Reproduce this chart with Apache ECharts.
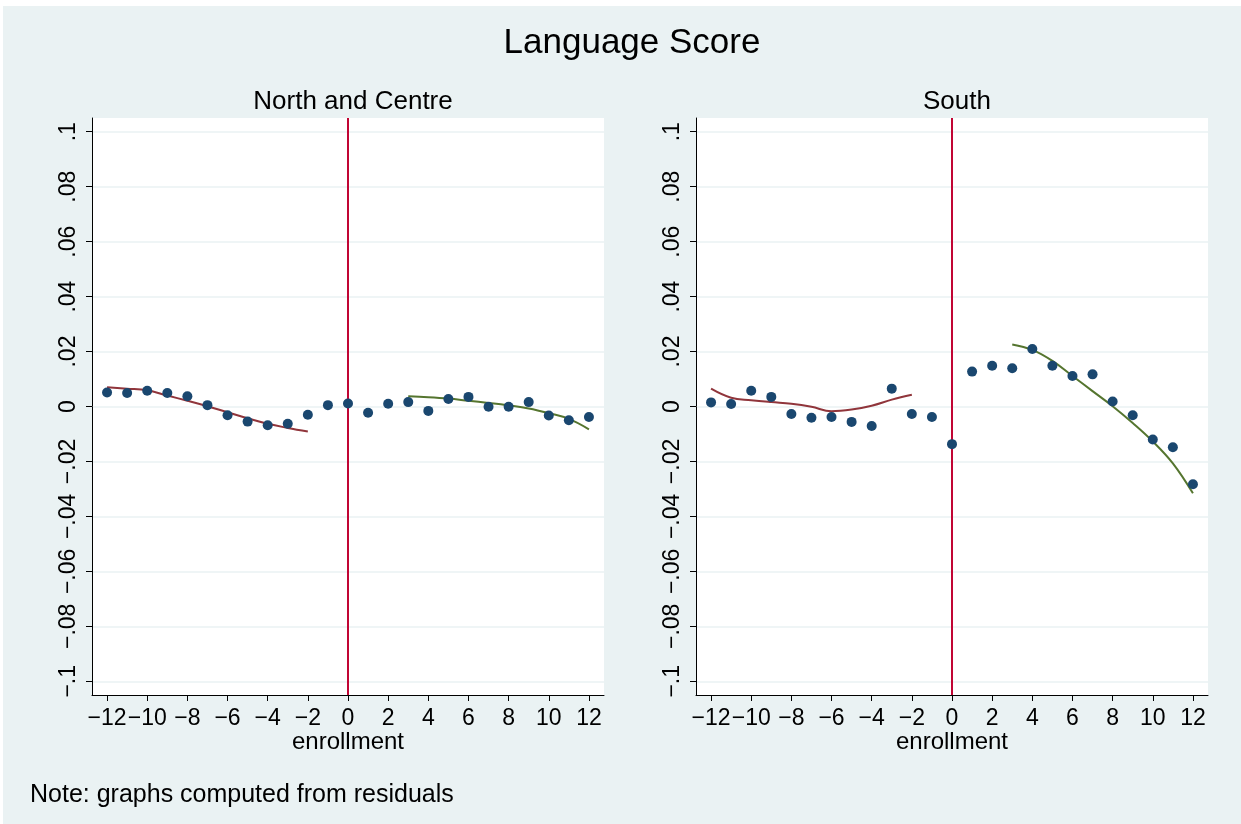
<!DOCTYPE html>
<html>
<head>
<meta charset="utf-8">
<script src="https://cdn.jsdelivr.net/npm/echarts@6/dist/echarts.min.js"></script>
<style>
html,body{margin:0;padding:0;background:#ffffff;}
#chart{width:1241px;height:824px;}
</style>
</head>
<body>
<div id="chart"></div>
<script>
// ---- data ----
const enrollment = [-12,-11,-10,-9,-8,-7,-6,-5,-4,-3,-2,-1,0,1,2,3,4,5,6,7,8,9,10,11,12];
const northDots = [0.0051,0.0049,0.0057,0.0049,0.0037,0.0005,-0.0032,-0.0055,-0.0068,-0.0063,-0.0030,0.0005,0.0011,-0.0023,0.0010,0.0016,-0.0016,0.0027,0.0035,-0.0001,-0.0001,0.0016,-0.0033,-0.0050,-0.0038];
const southDots = [0.0015,0.0009,0.0057,0.0035,-0.0027,-0.0041,-0.0038,-0.0056,-0.0071,0.0065,-0.0027,-0.0038,-0.0137,0.0127,0.0148,0.0139,0.0209,0.0148,0.0111,0.0117,0.0018,-0.0032,-0.0120,-0.0148,-0.0283];

const fitBeforeX = [-12,-11,-10,-9,-8,-7,-6,-5,-4,-3,-2];
const fitAfterX = [3,4,5,6,7,8,9,10,11,12];
const northFitBefore = [0.0070,0.0065,0.0059,0.0040,0.0021,0.0001,-0.0021,-0.0043,-0.0063,-0.0078,-0.0091];
const northFitAfter = [0.0037,0.0034,0.0029,0.0021,0.0013,0.0004,-0.0007,-0.0024,-0.0045,-0.0083];
const southFitBefore = [0.0065,0.0032,0.0023,0.0016,0.0010,-0.0001,-0.0017,-0.0011,0.0003,0.0025,0.0043];
const southFitAfter = [0.0226,0.0206,0.0166,0.0111,0.0056,0.0001,-0.0060,-0.0127,-0.0207,-0.0316];

const xTicks = [-12,-10,-8,-6,-4,-2,0,2,4,6,8,10,12];
const yTicks = [-0.1,-0.08,-0.06,-0.04,-0.02,0,0.02,0.04,0.06,0.08,0.1];

const titleText = 'Language Score';
const panelTitles = ['North and Centre', 'South'];
const xName = 'enrollment';
const noteText = 'Note: graphs computed from residuals';

// ---- styles ----
const FONT = '"Liberation Sans", Arial, Helvetica, sans-serif';
const BG = '#eaf2f3';
const NAVY = '#1a476f';
const MAROON = '#90353b';
const GREEN = '#55752f';
const CRAN = '#c10534';

function pairs(xs, ys){ return xs.map((x,i)=>[x, ys[i]]); }
function fmtX(v){ return v < 0 ? '\u2212' + Math.abs(v) : String(v); }
function fmtY(v){
  if (Math.abs(v) < 1e-9) return '0';
  let s = Math.abs(v).toFixed(2).replace(/0+$/,'').replace(/^0/,'');
  return (v < 0 ? '\u2212' : '') + s;
}

const grids = [
  {left: 92, top: 118, width: 512, height: 577, show: true, backgroundColor: '#ffffff', borderWidth: 0},
  {left: 696, top: 118, width: 512, height: 577, show: true, backgroundColor: '#ffffff', borderWidth: 0}
];

function xAxisFor(i){
  return {
    gridIndex: i, type: 'value', min: -12.75, max: 12.75,
    name: xName, nameLocation: 'middle', nameGap: 35, nameMoveOverlap: false,
    nameTextStyle: {fontFamily: FONT, fontSize: 24, color: '#000'},
    axisLine: {show: true, onZero: false, lineStyle: {color: '#000', width: 1}},
    axisTick: {show: true, length: 6, inside: false, customValues: xTicks, lineStyle: {color: '#000'}},
    axisLabel: {show: true, customValues: xTicks, margin: 12, fontFamily: FONT, fontSize: 23, color: '#000', formatter: fmtX},
    splitLine: {show: false}
  };
}
function yAxisFor(i){
  return {
    gridIndex: i, type: 'value', min: -0.105, max: 0.105,
    axisLine: {show: true, onZero: false, lineStyle: {color: '#000', width: 1}},
    axisTick: {show: true, length: 6, inside: false, customValues: yTicks, lineStyle: {color: '#000'}},
    axisLabel: {show: true, customValues: yTicks, rotate: 90, margin: 12, fontFamily: FONT, fontSize: 23, color: '#000', formatter: fmtY},
    splitLine: {show: true, lineStyle: {color: BG, width: 1.5}}
  };
}

function panelSeries(i, dots, before, after){
  return [
    {
      type: 'scatter', xAxisIndex: i, yAxisIndex: i,
      data: pairs(enrollment, dots), symbol: 'circle', symbolSize: 10,
      itemStyle: {color: NAVY, opacity: 1}, z: 5,
      markLine: {
        silent: true, symbol: ['none','none'], label: {show: false},
        lineStyle: {color: CRAN, width: 2, type: 'solid', opacity: 1},
        data: [{xAxis: 0}]
      }
    },
    {
      type: 'line', xAxisIndex: i, yAxisIndex: i, data: pairs(fitBeforeX, before),
      smooth: 0.4, showSymbol: false, lineStyle: {color: MAROON, width: 2}, z: 4
    },
    {
      type: 'line', xAxisIndex: i, yAxisIndex: i, data: pairs(fitAfterX, after),
      smooth: 0.4, showSymbol: false, lineStyle: {color: GREEN, width: 2}, z: 4
    }
  ];
}

const chart = echarts.init(document.getElementById('chart'), null, {renderer: 'canvas'});
chart.setOption({
  animation: false,
  backgroundColor: '#ffffff',
  graphic: [{type: 'rect', left: 3, top: 6, shape: {width: 1238, height: 818}, style: {fill: BG}, z: -10, silent: true}],
  title: [
    {text: titleText, left: 627, textAlign: 'center', top: 21, textStyle: {fontFamily: FONT, fontSize: 35, fontWeight: 'normal', color: '#000'}},
    {text: panelTitles[0], left: 348, textAlign: 'center', top: 84, textStyle: {fontFamily: FONT, fontSize: 26, fontWeight: 'normal', color: '#000'}},
    {text: panelTitles[1], left: 952, textAlign: 'center', top: 84, textStyle: {fontFamily: FONT, fontSize: 26, fontWeight: 'normal', color: '#000'}},
    {text: noteText, left: 25, top: 778, textStyle: {fontFamily: FONT, fontSize: 25, fontWeight: 'normal', color: '#000'}}
  ],
  grid: grids,
  xAxis: [xAxisFor(0), xAxisFor(1)],
  yAxis: [yAxisFor(0), yAxisFor(1)],
  series: [].concat(
    panelSeries(0, northDots, northFitBefore, northFitAfter),
    panelSeries(1, southDots, southFitBefore, southFitAfter)
  )
});
</script>
</body>
</html>
